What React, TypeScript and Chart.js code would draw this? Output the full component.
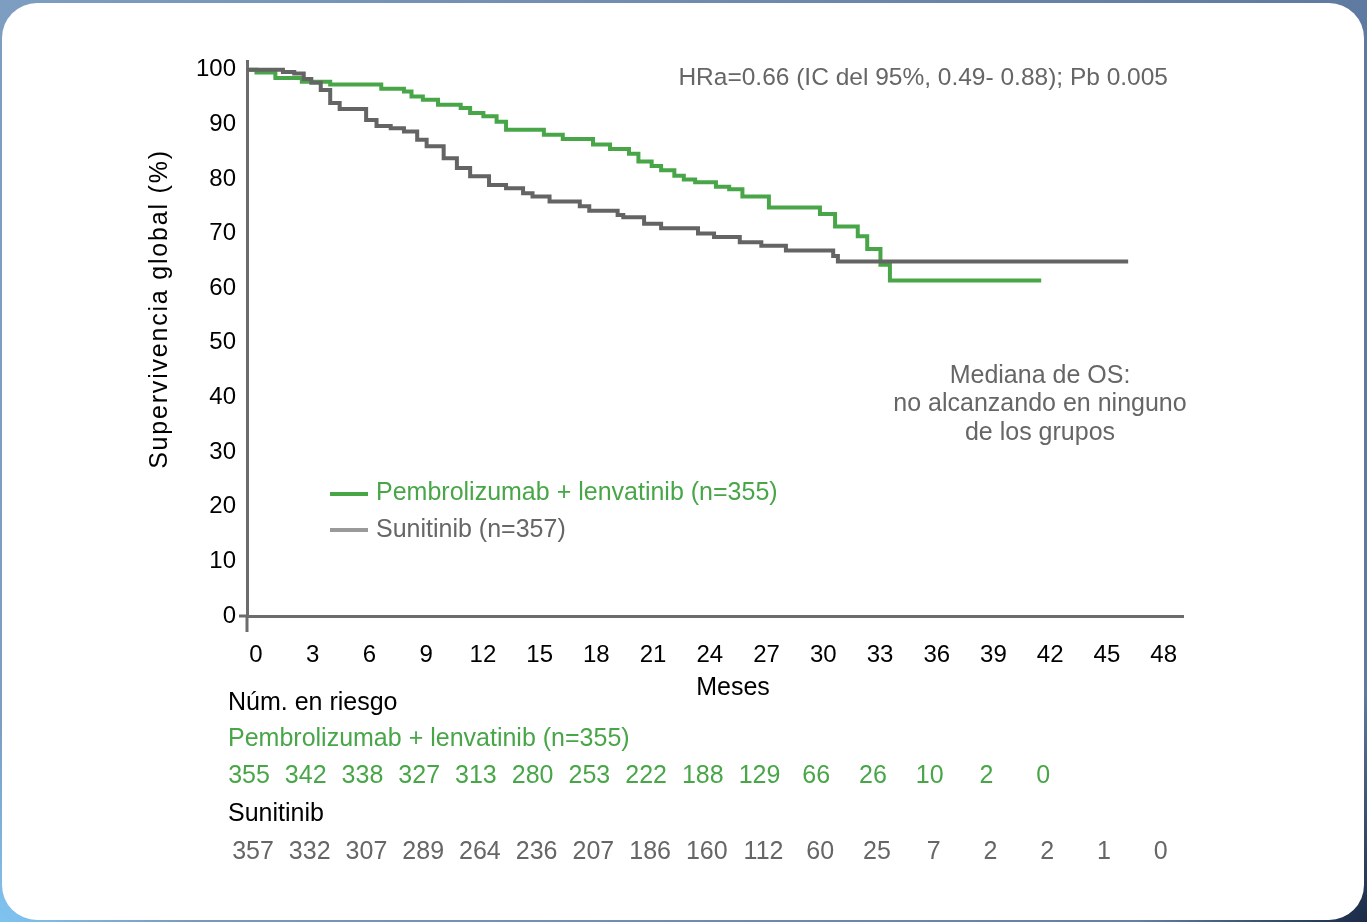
import React, { useEffect, useRef } from "react";
import { Chart, registerables } from "chart.js";

Chart.register(...registerables);

// ---- Data ----
const pembroMonths = [0, 0.5, 1.5, 2.9, 4.4, 7.1, 8.3, 8.7, 9.3, 10.1, 11.3, 11.8, 12.5, 13.2, 13.7, 15.7, 16.7, 18.3, 19.2, 20.2, 20.7, 21.4, 21.9, 22.6, 23.1, 23.7, 24.8, 25.5, 26.2, 27.6, 30.3, 31.1, 32.3, 32.8, 33.5, 34.0, 42.0];
const pembroSurv = [100, 99.5, 98.5, 97.8, 97.3, 96.5, 96.0, 95.1, 94.5, 93.6, 93.0, 92.1, 91.5, 90.5, 89.0, 88.1, 87.3, 86.3, 85.5, 84.6, 83.2, 82.4, 81.6, 80.6, 79.9, 79.4, 78.6, 78.1, 76.8, 74.8, 73.6, 71.3, 69.5, 67.2, 64.3, 61.4, 61.4];

const sunMonths = [0, 1.9, 2.5, 3.0, 3.4, 3.9, 4.4, 4.9, 6.3, 6.85, 7.6, 8.3, 9.0, 9.5, 10.4, 11.1, 11.8, 12.8, 13.7, 14.6, 15.1, 16.0, 17.6, 18.1, 19.6, 19.9, 21.0, 21.9, 23.85, 24.7, 26.06, 27.2, 28.5, 31.0, 31.25, 46.6];
const sunSurv = [100, 99.6, 99.3, 98.3, 97.6, 96.3, 93.9, 92.8, 90.8, 89.7, 89.3, 88.7, 87.2, 86.0, 83.8, 82.0, 80.5, 78.9, 78.3, 77.4, 76.8, 75.9, 75.0, 74.2, 73.4, 73.0, 71.8, 71.0, 70.0, 69.4, 68.4, 67.8, 66.9, 65.9, 64.9, 64.9];

const xTicks = [0, 3, 6, 9, 12, 15, 18, 21, 24, 27, 30, 33, 36, 39, 42, 45, 48];
const yTicks = [0, 10, 20, 30, 40, 50, 60, 70, 80, 90, 100];

const pembroAtRisk = [355, 342, 338, 327, 313, 280, 253, 222, 188, 129, 66, 26, 10, 2, 0];
const sunAtRisk = [357, 332, 307, 289, 264, 236, 207, 186, 160, 112, 60, 25, 7, 2, 2, 1, 0];

const pembroLabel = "Pembrolizumab + lenvatinib (n=355)";
const sunLabel = "Sunitinib (n=357)";
const hrText = "HRa=0.66 (IC del 95%, 0.49- 0.88); Pb 0.005";
const medianLines = ["Mediana de OS:", "no alcanzando en ninguno", "de los grupos"];
const yTitle = "Supervivencia global (%)";
const xTitle = "Meses";
const riskTitle = "Núm. en riesgo";
const riskSunTitle = "Sunitinib";

// ---- Styles ----
const FONT = '"Liberation Sans", Arial, Helvetica, sans-serif';
const GREEN = "#48a648";
const GRAY_LINE = "#646464";
const GRAY_LEGEND = "#9a9a9a";
const GRAY_TEXT = "#666666";
const AXIS = "#6c6c6c";
const FS_TICK = 24;
const FS = 25;

const overlayPlugin = {
  id: "overlay",
  beforeDatasetsDraw(chart: any) {
    const ctx = chart.ctx;
    const xs = chart.scales.x;
    const ys = chart.scales.y;
    const left = xs.left;
    const bottom = ys.bottom;
    ctx.save();
    ctx.strokeStyle = AXIS;
    ctx.lineWidth = 3;
    ctx.beginPath();
    ctx.moveTo(left, bottom);
    ctx.lineTo(left, bottom + 16);
    ctx.moveTo(left - 8, bottom);
    ctx.lineTo(left, bottom);
    ctx.stroke();
    ctx.restore();
  },
  afterDraw(chart: any) {
    const ctx = chart.ctx;
    const xs = chart.scales.x;
    ctx.save();
    ctx.font = `${FS}px ${FONT}`;
    ctx.textBaseline = "middle";

    // HR text
    ctx.fillStyle = GRAY_TEXT;
    ctx.textAlign = "right";
    ctx.font = `24.5px ${FONT}`;
    ctx.fillText(hrText, 1168, 78);
    ctx.font = `${FS}px ${FONT}`;

    // Median text
    ctx.textAlign = "center";
    medianLines.forEach((t, i) => ctx.fillText(t, 1040, 376 + i * 28.5));

    // Legend
    ctx.lineWidth = 4;
    ctx.strokeStyle = GREEN;
    ctx.beginPath();
    ctx.moveTo(330, 494);
    ctx.lineTo(368, 494);
    ctx.stroke();
    ctx.strokeStyle = GRAY_LEGEND;
    ctx.beginPath();
    ctx.moveTo(330, 530);
    ctx.lineTo(368, 530);
    ctx.stroke();
    ctx.textAlign = "left";
    ctx.fillStyle = GREEN;
    ctx.fillText(pembroLabel, 376, 493);
    ctx.fillStyle = GRAY_TEXT;
    ctx.fillText(sunLabel, 376, 530);

    // Axis titles
    ctx.fillStyle = "#000";
    ctx.textAlign = "center";
    ctx.fillText(xTitle, 733, 688);
    ctx.save();
    ctx.translate(160, 309);
    ctx.rotate(-Math.PI / 2);
    try {
      (ctx as any).letterSpacing = "1.8px";
    } catch (e) {}
    ctx.fillText(yTitle, 0, 0);
    try {
      (ctx as any).letterSpacing = "0px";
    } catch (e) {}
    ctx.restore();

    // Risk table
    ctx.textAlign = "left";
    ctx.fillStyle = "#000";
    ctx.fillText(riskTitle, 228, 703);
    ctx.fillStyle = GREEN;
    ctx.fillText(pembroLabel, 228, 739);
    ctx.fillStyle = "#000";
    ctx.fillText(riskSunTitle, 228, 814);

    ctx.textAlign = "center";
    ctx.fillStyle = GREEN;
    pembroAtRisk.forEach((v, i) => {
      ctx.fillText(String(v), xs.getPixelForValue(xTicks[i]) + 2, 776);
    });
    ctx.fillStyle = GRAY_TEXT;
    sunAtRisk.forEach((v, i) => {
      ctx.fillText(String(v), xs.getPixelForValue(xTicks[i]) + 6, 852);
    });
    ctx.restore();
  },
};

export default function App() {
  const ref = useRef<HTMLCanvasElement | null>(null);

  useEffect(() => {
    if (!ref.current) return;
    const chart = new Chart(ref.current, {
      type: "line",
      data: {
        datasets: [
          {
            label: sunLabel,
            data: sunMonths.map((m, i) => ({ x: m, y: sunSurv[i] })),
            borderColor: GRAY_LINE,
            borderWidth: 4,
            pointRadius: 0,
            stepped: "before",
            fill: false,
          },
          {
            label: pembroLabel,
            data: pembroMonths.map((m, i) => ({ x: m, y: pembroSurv[i] })),
            borderColor: GREEN,
            borderWidth: 4,
            pointRadius: 0,
            stepped: "before",
            fill: false,
          },
        ],
      },
      options: {
        animation: false,
        responsive: false,
        devicePixelRatio: 1,
        layout: { padding: { top: 61, right: 184, left: 0, bottom: 0 } },
        plugins: {
          legend: { display: false },
          tooltip: { enabled: false },
          title: { display: false },
        },
        scales: {
          x: {
            type: "linear",
            min: 0,
            max: 49.5,
            afterFit: (s: any) => {
              s.height = 306;
            },
            afterBuildTicks: (s: any) => {
              s.ticks = xTicks.map((v) => ({ value: v }));
            },
            grid: { display: false, drawTicks: false },
            border: { display: true, color: AXIS, width: 3 },
            ticks: {
              color: "#000",
              font: { family: FONT, size: FS_TICK },
              padding: 25,
              labelOffset: 9,
              maxRotation: 0,
              autoSkip: false,
            },
          },
          y: {
            type: "linear",
            min: 0,
            max: 101.6,
            afterFit: (s: any) => {
              s.width = 247;
            },
            afterBuildTicks: (s: any) => {
              s.ticks = yTicks.map((v) => ({ value: v }));
            },
            grid: { display: false, drawTicks: false },
            border: { display: true, color: AXIS, width: 3 },
            ticks: {
              color: "#000",
              font: { family: FONT, size: FS_TICK },
              padding: 11,
              autoSkip: false,
            },
          },
        },
      },
      plugins: [overlayPlugin],
    } as any);
    return () => chart.destroy();
  }, []);

  return (
    <div
      style={{
        position: "fixed",
        left: 0,
        top: 0,
        width: 1367,
        height: 922,
        overflow: "hidden",
        background:
          "radial-gradient(circle at 0% 100%, #7fc3f0 0%, rgba(127,195,240,0) 12%), radial-gradient(circle at 100% 100%, #1b2b48 0%, rgba(27,43,72,0) 14%), linear-gradient(90deg, #7d9dc1 0%, #6e88ab 60%, #5f7aa0 100%)",
      }}
    >
      <div
        style={{
          position: "absolute",
          left: 2,
          top: 3,
          width: 1362,
          height: 917,
          borderRadius: 35,
          background: "#ffffff",
        }}
      />
      <canvas
        ref={ref}
        width={1367}
        height={922}
        style={{ position: "absolute", left: 0, top: 0, width: 1367, height: 922 }}
      />
    </div>
  );
}
